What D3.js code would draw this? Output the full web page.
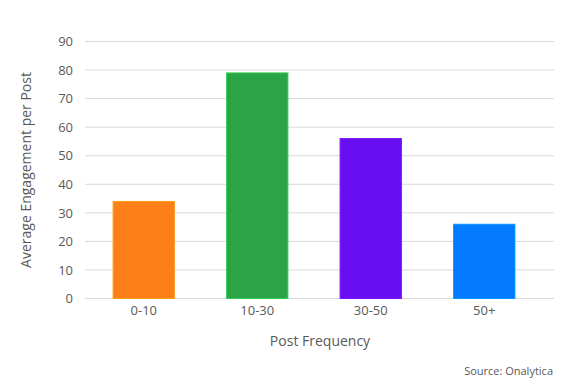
<!DOCTYPE html>
<html>
<head>
<meta charset="utf-8">
<script src="https://cdn.jsdelivr.net/npm/d3@7"></script>
<style>
    body { margin: 0; background: #fff; }
    text { font-family: "Open Sans", sans-serif; fill: #595959; }
</style>
</head>
<body>
<svg id="chart"></svg>
<script>
// Chart data
let categories = ["0-10", "10-30", "30-50", "50+"];
let engagement = [34, 79, 56, 26];
let barColors = ["#fe7f17", "#2ba446", "#670ef2", "#037aff"];
let yTicks = [0, 10, 20, 30, 40, 50, 60, 70, 80, 90];

let width = 571;
let height = 386;

let svg = d3.select("#chart").attr("width", width).attr("height", height);

// Scales
let x = d3.scaleBand().domain(categories).range([87, 541]).paddingInner(0.46).paddingOuter(0.23);
let y = d3.scaleLinear().domain([0, 90]).range([298.5, 41.5]);

// Gridlines
svg.selectAll(".grid")
    .data(yTicks)
    .enter()
    .append("line")
    .attr("class", "grid")
    .attr("x1", 85)
    .attr("x2", 554)
    .attr("y1", function(d){ return y(d); })
    .attr("y2", function(d){ return y(d); })
    .attr("stroke", "#d9d9d9")
    .attr("stroke-width", 1);

// Y axis labels
let yAxis = d3.axisLeft(y).tickValues(yTicks).tickSize(0).tickPadding(0);
let yG = svg.append("g").attr("transform", "translate(73,0)").call(yAxis);
yG.select(".domain").remove();
yG.selectAll("text").style("font-size", "13px").attr("fill", "#595959").style("font-family", "'Open Sans', sans-serif");

// Bars
svg.selectAll(".bar")
    .data(engagement)
    .enter()
    .append("rect")
    .attr("class", "bar")
    .attr("x", function(d, i){ return x(categories[i]); })
    .attr("y", function(d){ return y(d); })
    .attr("width", x.bandwidth())
    .attr("height", function(d){ return y(0) - y(d); })
    .attr("fill", function(d, i){ return barColors[i]; })
    .attr("stroke", function(d, i){ return d3.color(barColors[i]).brighter(0.6); })
    .attr("stroke-width", 1);

// X axis labels
let xAxis = d3.axisBottom(x).tickSize(0).tickPadding(0);
let xG = svg.append("g").attr("transform", "translate(0,306)").call(xAxis);
xG.select(".domain").remove();
xG.selectAll("text").style("font-size", "13px").attr("fill", "#595959").style("font-family", "'Open Sans', sans-serif");

// Axis titles
svg.append("text")
    .attr("x", 320)
    .attr("y", 346)
    .attr("text-anchor", "middle")
    .style("font-size", "14px")
    .text("Post Frequency");

svg.append("text")
    .attr("transform", "translate(31,170) rotate(-90)")
    .attr("text-anchor", "middle")
    .style("font-size", "14px")
    .text("Average Engagement per Post");

// Source note
svg.append("text")
    .attr("x", 553)
    .attr("y", 375)
    .attr("text-anchor", "end")
    .style("font-size", "11px")
    .text("Source: Onalytica");
</script>
</body>
</html>
